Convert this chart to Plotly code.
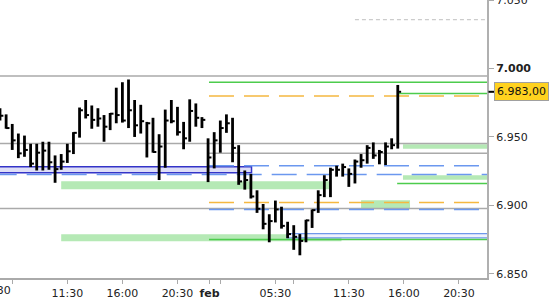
import plotly.graph_objects as go

# ---- data (price in index points, x in 30-minute bar slots) ----
slot = list(range(66))
high = [6971, 6966.5, 6959.5, 6952.5, 6951, 6945, 6945, 6946.5, 6946.5, 6936.5,
        6937.5, 6945, 6953.5, 6971.5, 6977, 6973, 6971, 6966, 6967.5, 6986,
        6990, 6992, 6977, 6973.5, 6961, 6964, 6952, 6970, 6977, 6972,
        6961, 6977.5, 6974.5, 6964.5, 6949, 6953.5, 6962, 6966.5, 6964, 6944,
        6925.5, 6923, 6911, 6901, 6893.5, 6903.5, 6899, 6888, 6885.5, 6879,
        6889.5, 6897, 6911, 6922, 6927.5, 6929, 6930.5, 6927, 6933.5, 6937.5,
        6944, 6946, 6940.5, 6946, 6949, 6988]
low = [6962, 6956, 6940.5, 6934.5, 6935.5, 6928, 6925.5, 6925.5, 6926, 6916.5,
       6926, 6931, 6937.5, 6949.5, 6963.5, 6956, 6957.5, 6946.5, 6955, 6960,
       6960.5, 6956.5, 6950, 6952.5, 6935, 6938.5, 6918.5, 6927.5, 6960, 6951,
       6941, 6946.5, 6957.5, 6956.5, 6917, 6927, 6938.5, 6953, 6931.5, 6915,
       6911.5, 6905, 6894.5, 6882.5, 6873, 6887.5, 6883, 6876, 6867.5, 6863.5,
       6873, 6883.5, 6894.5, 6906, 6906, 6921, 6921, 6913.5, 6916, 6927.5,
       6930.5, 6934, 6930, 6929.5, 6941, 6941.5]
close = [6965.5, 6956.5, 6947.5, 6938, 6940.5, 6930.5, 6938.5, 6940, 6931.5, 6926.5,
         6932, 6939.5, 6953, 6969.5, 6966, 6962.5, 6963.5, 6957.5, 6967, 6966,
         6962, 6969.5, 6958.5, 6961.5, 6960, 6939, 6943, 6962, 6961.5, 6953.5,
         6949, 6969, 6964, 6962.5, 6935, 6947.5, 6956.5, 6960, 6942, 6917.5,
         6918.5, 6906.5, 6897.5, 6886.5, 6888.5, 6897, 6885, 6879, 6877, 6874,
         6889, 6896.5, 6907.5, 6918.5, 6926, 6926, 6928, 6923, 6932, 6933,
         6942, 6936.5, 6939, 6943, 6944, 6983]
last_price = 6983.00

# x-axis ticks (slot positions) and labels
tick_slots = [2, 11, 20, 29, 34.25, 36, 45, 48, 57, 66, 75]
tick_labels = ["", "11:30", "16:00", "20:30", "<b>feb</b>", "", "05:30", "", "11:30", "16:00", "20:30"]
y_ticks = [6850, 6900, 6950, 7000, 7050]
y_labels = ["6.850", "6.900", "6.950", "<b>7.000</b>", "7.050"]

# horizontal levels: (price, start slot)
gray_full = [6994.6, 6945.2, 6897.7]
gray_part = [(6938.0, 34.15)]
gray_dash = [(7035.8, 58.0)]
green_lines = [(6990.0, 34.15), (6875.0, 34.15), (6981.7, 64.9), (6916.0, 64.9)]
orange_dash = [(6980.0, 34.15), (6902.0, 34.15)]
blue_dash = [(6922.5, -1.36), (6929.0, 34.15), (6897.0, 34.15)]
# zones: (low, high, start slot, end slot)
green_zones = [(6911.8, 6917.6, 10, 53.9), (6873.8, 6878.9, 10, 55.8),
               (6941.4, 6944.7, 65.85, 90), (6918.7, 6922.0, 65.85, 90),
               (6897.1, 6903.7, 59, 67)]
violet_zone = (6923.8, 6928.2, -2, 41.1)
blue_zone = (6876.3, 6879.4, 46.9, 90)

X_MAX = 79.58
Y_MIN, Y_MAX = 6846.9, 7050.1

# ---- bars built from the arrays ----
bx, by, cx, cy = [], [], [], []
for s, h, l, c in zip(slot, high, low, close):
    bx += [s, s, None]
    by += [l, h, None]
    cx += [s, s + 0.55, None]
    cy += [c, c, None]

fig = go.Figure()
fig.add_trace(go.Scatter(x=bx, y=by, mode="lines", line=dict(color="black", width=2.8),
                         hoverinfo="skip", showlegend=False))
fig.add_trace(go.Scatter(x=cx, y=cy, mode="lines", line=dict(color="black", width=2),
                         hoverinfo="skip", showlegend=False))

shapes = []
def hline(y, x0, color, width=1.4, dash="solid"):
    shapes.append(dict(type="line", xref="x", yref="y", x0=x0, x1=90, y0=y, y1=y,
                       line=dict(color=color, width=width, dash=dash), layer="below"))

def zone(lo, hi, x0, x1, fill, line=None, lw=0):
    shapes.append(dict(type="rect", xref="x", yref="y", x0=x0, x1=x1, y0=lo, y1=hi,
                       fillcolor=fill, line=dict(color=line or fill, width=lw), layer="below"))

for lo, hi, x0, x1 in green_zones:
    zone(lo, hi, x0, x1, "#b5e9b5")
zone(*violet_zone, "#dedef6", "#3434c8", 1.5)
zone(*blue_zone, "#eef2fd", "#6f97ea", 1.3)
for y in gray_full:
    hline(y, -2, "#aaaaaa", 1.5)
for y, x0 in gray_part:
    hline(y, x0, "#aaaaaa", 1.5)
for y, x0 in gray_dash:
    hline(y, x0, "#cccccc", 1.2, "4px,3px")
for y, x0 in green_lines:
    hline(y, x0, "#4ccc4c", 1.5)
for y, x0 in orange_dash:
    hline(y, x0, "#f5b840", 1.5, "25px,10px")
for y, x0 in blue_dash:
    hline(y, x0, "#6b98ef", 1.5, "25px,10px")

# last price marker on axis
shapes.append(dict(type="line", xref="paper", yref="y", x0=1.003, x1=1.0144,
                   y0=last_price, y1=last_price, line=dict(color="black", width=2)))

font = dict(family="DejaVu Sans", size=11, color="#222222")

fig.update_layout(
    width=550, height=300,
    margin=dict(l=0, r=63, t=0, b=22, autoexpand=False),
    paper_bgcolor="white", plot_bgcolor="white",
    shapes=shapes,
    showlegend=False,
    font=font,
    xaxis=dict(range=[0, X_MAX], showgrid=False, zeroline=False, automargin=False,
               showline=True, linecolor="#aaaaaa", linewidth=1.5,
               ticks="outside", ticklen=4, tickcolor="#aaaaaa",
               tickvals=tick_slots, ticktext=tick_labels, tickfont=font),
    yaxis=dict(range=[Y_MIN, Y_MAX], side="right", showgrid=False, zeroline=False,
               automargin=False,
               showline=True, linecolor="#b0b0b0", linewidth=2,
               ticks="outside", ticklen=5, tickcolor="#aaaaaa",
               ticklabeloverflow="allow",
               tickvals=y_ticks, ticktext=y_labels, tickfont=font),
    annotations=[
        dict(xref="paper", yref="y", x=494 / 487, y=last_price, xanchor="left", yanchor="middle",
             text="6.983,00", showarrow=False, bgcolor="#ffd21f", bordercolor="#a0a0a0",
             borderwidth=1, borderpad=2, font=dict(family="DejaVu Sans", size=11, color="#111111")),
        dict(xref="paper", yref="paper", x=-5.5 / 487, y=-12 / 278, xanchor="center", yanchor="middle",
             text="05:30", showarrow=False, font=font),
    ],
)

fig.write_html("out.html")
